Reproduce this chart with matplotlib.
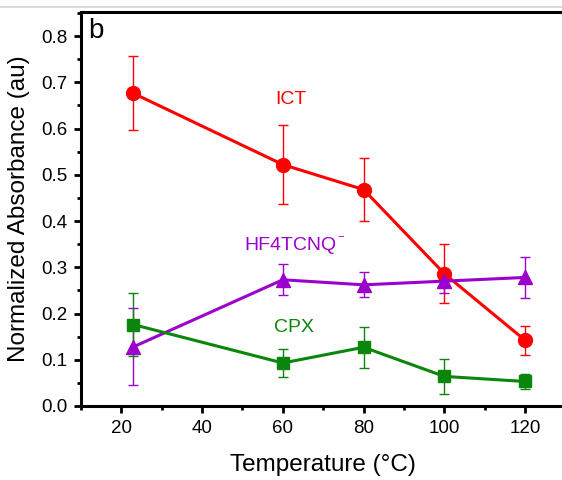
import matplotlib.pyplot as plt
from matplotlib.lines import Line2D
from matplotlib.ticker import MultipleLocator

plt.rcParams["font.family"] = ["Liberation Sans", "DejaVu Sans"]

temperatura = [23, 60, 80, 100, 120]

ict = [0.676, 0.522, 0.468, 0.286, 0.142]
ict_err = [0.080, 0.085, 0.068, 0.064, 0.032]

hf4tcnq = [0.128, 0.273, 0.262, 0.270, 0.278]
hf4tcnq_err = [0.083, 0.033, 0.027, 0.025, 0.045]

cpx = [0.176, 0.093, 0.127, 0.064, 0.053]
cpx_err = [0.068, 0.031, 0.044, 0.037, 0.017]

VERMELHO = "#ff0000"
ROXO = "#9b00cc"
VERDE = "#0a860a"

fig = plt.figure(figsize=(5.62, 4.8), dpi=100)
ax = fig.add_axes([81 / 562, 74 / 480, 484.5 / 562, 394 / 480])

# faixa cinza do print original
fig.add_artist(Line2D([0, 1], [473 / 480, 473 / 480], color="#d4d4d4", lw=1.2,
                      transform=fig.transFigure))

series = [
    (ict, ict_err, VERMELHO, "o", 10),
    (hf4tcnq, hf4tcnq_err, ROXO, "^", 10),
    (cpx, cpx_err, VERDE, "s", 8.5),
]
for vals, errs, cor, mk, ms in series:
    ax.errorbar(temperatura, vals, yerr=errs, color=cor, lw=2.2, marker=mk, ms=ms,
                ecolor=cor, elinewidth=1.0, capsize=3.5, capthick=1.0)

ax.text(62, 0.662, "ICT", color=VERMELHO, fontsize=14, ha="center", va="center")
t = ax.text(61.8, 0.348, "HF4TCNQ", color=ROXO, fontsize=14, ha="center", va="center")
# sobrescrito pequeno, como no original
ax.annotate("\u2212", xy=(1, 1), xycoords=t, xytext=(1, 4), textcoords="offset points",
            color=ROXO, fontsize=8, ha="left", va="top")
ax.text(62.7, 0.169, "CPX", color=VERDE, fontsize=14, ha="center", va="center")
ax.text(0.014, 0.985, "b", transform=ax.transAxes, fontsize=20, ha="left", va="top")

ax.set_xlim(10, 130)
ax.set_ylim(0, 0.852)
ax.xaxis.set_major_locator(MultipleLocator(20))
ax.xaxis.set_minor_locator(MultipleLocator(10))
ax.yaxis.set_major_locator(MultipleLocator(0.1))
ax.yaxis.set_minor_locator(MultipleLocator(0.05))
ax.yaxis.set_major_formatter(plt.FormatStrFormatter("%.1f"))

for s in ax.spines.values():
    s.set_linewidth(2.2)
ax.tick_params(which="major", direction="out", length=5, width=2, labelsize=13.5, pad=5)
ax.tick_params(which="minor", direction="out", length=3, width=2)

ax.set_xlabel("Temperature (\u00b0C)", fontsize=17.5, labelpad=12)
ax.set_ylabel("Normalized Absorbance (au)", fontsize=17.5, labelpad=8)

fig.savefig("out.png", dpi=100)
